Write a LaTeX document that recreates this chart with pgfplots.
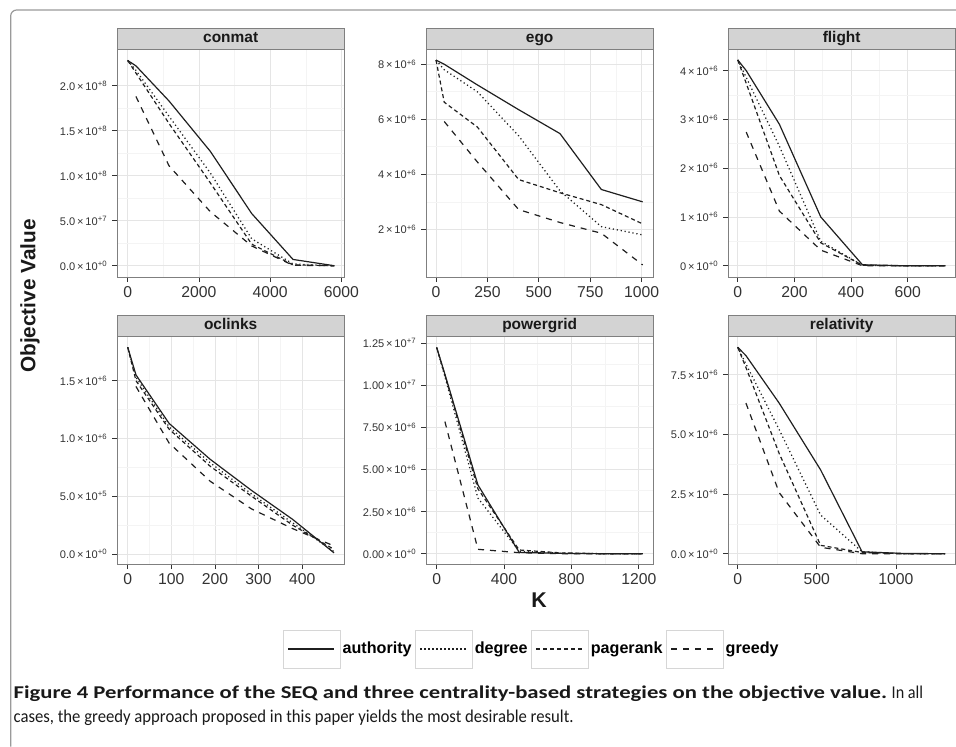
\documentclass[border=0pt]{standalone}
\usepackage{pgfplots}
\pgfplotsset{compat=1.18}
\usepackage{graphicx}
\usepackage{fontspec}
\setmainfont{Liberation Sans}
\newfontfamily\capfont{Carlito}

\definecolor{panelborder}{HTML}{7F7F7F}
\definecolor{stripfill}{HTML}{D3D3D3}
\definecolor{gridmajor}{HTML}{E5E5E5}
\definecolor{gridminor}{HTML}{F4F4F4}
\definecolor{tickcol}{HTML}{333333}
\definecolor{linecol}{HTML}{1F1F1F}
\definecolor{framecol}{HTML}{9A9A9A}
\definecolor{keybox}{HTML}{D6D6D6}

% tick label like 2.0 x 10^+8
\newcommand{\sci}[2]{#1\,×\,10\textsuperscript{#2}}

\pgfplotsset{
  facet/.style={
    scale only axis, width=170.5pt, height=170.5pt, anchor=south west,
    axis line style={draw=panelborder, line width=0.6pt},
    tick pos=left, tick align=outside,
    major tick length=3.75pt, minor tick length=0pt,
    tick style={draw=tickcol, line width=0.6pt},
    minor x tick num=1, minor y tick num=1,
    grid=both,
    major grid style={draw=gridmajor, line width=0.6pt},
    minor grid style={draw=gridminor, line width=0.5pt},
    scaled ticks=false,
    xticklabel style={font=\fontsize{11.8}{12}\selectfont, text=tickcol},
    yticklabel style={font=\fontsize{8.3}{9}\selectfont, text=tickcol},
    every axis title shift=0pt,
    title style={at={(0.5,1)}, anchor=south, yshift=0pt, fill=stripfill, draw=panelborder,
      line width=0.6pt, minimum width=170.5pt, minimum height=16pt, inner sep=0pt,
      text height=8.6pt, text depth=2.6pt,
      font=\bfseries\fontsize{11.6}{12}\selectfont, text=black!90},
  },
  authority/.style={linecol, line width=0.9pt, solid},
  degree/.style={linecol, line width=0.95pt, dash pattern=on 0.9pt off 2.1pt},
  pagerank/.style={linecol, line width=0.9pt, dash pattern=on 3pt off 2.2pt},
  greedy/.style={linecol, line width=0.9pt, dash pattern=on 4.5pt off 4.5pt},
}

\begin{document}
\begin{tikzpicture}
\useasboundingbox (0pt,0pt) rectangle (717pt,-559.5pt);

% conmat
\begin{axis}[facet, at={(87.75pt,-207.75pt)}, title={conmat},
  xmin=-300, xmax=6080, ymin=-0.125e8, ymax=2.40e8,
  xtick={0,2000,4000,6000}, xticklabels={0,2000,4000,6000},
  ytick={0,0.5e8,1e8,1.5e8,2e8},
  yticklabels={\sci{0.0}{+0},\sci{5.0}{+7},\sci{1.0}{+8},\sci{1.5}{+8},\sci{2.0}{+8}}]
\addplot[authority] coordinates {(0,2.28e8) (232,2.22e8) (1160,1.83e8) (2320,1.27e8) (3480,0.58e8) (4640,0.07e8) (5800,0)};
\addplot[degree] coordinates {(0,2.28e8) (232,2.17e8) (1160,1.66e8) (2320,1.03e8) (3480,0.30e8) (4640,0.02e8) (5800,0)};
\addplot[pagerank] coordinates {(0,2.28e8) (232,2.14e8) (1160,1.58e8) (2320,0.92e8) (3480,0.24e8) (4640,0.01e8) (5800,0)};
\addplot[greedy] coordinates {(232,1.88e8) (1160,1.11e8) (2320,0.60e8) (3480,0.22e8) (4640,0.005e8) (5800,0)};
\end{axis}

% ego
\begin{axis}[facet, at={(319.5pt,-207.75pt)}, title={ego},
  xmin=-48.7, xmax=1057, ymin=0.27e6, ymax=8.53e6,
  xtick={0,250,500,750,1000}, xticklabels={0,250,500,750,1000},
  ytick={2e6,4e6,6e6,8e6},
  yticklabels={\sci{2}{+6},\sci{4}{+6},\sci{6}{+6},\sci{8}{+6}}]
\addplot[authority] coordinates {(0,8.15e6) (40,8.0e6) (201,7.25e6) (402,6.35e6) (603,5.48e6) (804,3.45e6) (1005,3.0e6)};
\addplot[degree] coordinates {(0,8.15e6) (40,7.8e6) (201,7.0e6) (402,5.4e6) (603,3.4e6) (804,2.1e6) (1005,1.8e6)};
\addplot[pagerank] coordinates {(0,8.15e6) (40,6.62e6) (201,5.72e6) (402,3.81e6) (603,3.33e6) (804,2.9e6) (1005,2.2e6)};
\addplot[greedy] coordinates {(40,5.92e6) (201,4.45e6) (402,2.72e6) (603,2.25e6) (804,1.86e6) (1005,0.71e6)};
\end{axis}

% flight
\begin{axis}[facet, at={(546pt,-207.75pt)}, title={flight},
  xmin=-34.3, xmax=767.8, ymin=-0.231e6, ymax=4.43e6,
  xtick={0,200,400,600}, xticklabels={0,200,400,600},
  ytick={0,1e6,2e6,3e6,4e6},
  yticklabels={\sci{0}{+0},\sci{1}{+6},\sci{2}{+6},\sci{3}{+6},\sci{4}{+6}}]
\addplot[authority] coordinates {(0,4.22e6) (30,4.0e6) (147,2.9e6) (293,1.0e6) (440,0.02e6) (586,0) (733,0)};
\addplot[degree] coordinates {(0,4.22e6) (30,3.86e6) (147,2.45e6) (293,0.5e6) (440,0.01e6) (586,0) (733,0)};
\addplot[pagerank] coordinates {(0,4.22e6) (30,3.74e6) (147,1.85e6) (293,0.47e6) (440,0.01e6) (586,0) (733,0)};
\addplot[greedy] coordinates {(30,2.74e6) (147,1.12e6) (293,0.32e6) (440,0) (586,0) (733,0)};
\end{axis}

% oclinks
\begin{axis}[facet, at={(87.75pt,-423pt)}, title={oclinks},
  xmin=-24.5, xmax=496.7, ymin=-0.0867e6, ymax=1.881e6,
  xtick={0,100,200,300,400}, xticklabels={0,100,200,300,400},
  ytick={0,0.5e6,1e6,1.5e6},
  yticklabels={\sci{0.0}{+0},\sci{5.0}{+5},\sci{1.0}{+6},\sci{1.5}{+6}}]
\addplot[authority] coordinates {(0,1.79e6) (19,1.55e6) (95,1.13e6) (189,0.82e6) (284,0.55e6) (378,0.30e6) (473,0.01e6)};
\addplot[degree] coordinates {(0,1.79e6) (19,1.53e6) (95,1.10e6) (189,0.79e6) (284,0.52e6) (378,0.27e6) (473,0.02e6)};
\addplot[pagerank] coordinates {(0,1.79e6) (19,1.50e6) (95,1.08e6) (189,0.76e6) (284,0.50e6) (378,0.25e6) (473,0.04e6)};
\addplot[greedy] coordinates {(19,1.45e6) (95,0.96e6) (189,0.63e6) (284,0.39e6) (378,0.22e6) (473,0.07e6)};
\end{axis}

% powergrid
\begin{axis}[facet, at={(319.5pt,-423pt)}, title={powergrid},
  xmin=-63.3, xmax=1286.4, ymin=-0.612e6, ymax=12.88e6,
  xtick={0,400,800,1200}, xticklabels={0,400,800,1200},
  ytick={0,2.5e6,5e6,7.5e6,10e6,12.5e6},
  yticklabels={\sci{0.00}{+0},\sci{2.50}{+6},\sci{5.00}{+6},\sci{7.50}{+6},\sci{1.00}{+7},\sci{1.25}{+7}},
  legend style={at={(0.465,-0.374)}, anchor=center, draw=none, fill=none,
    legend columns=4, font=\bfseries\fontsize{12.1}{13}\selectfont,
    nodes={inner xsep=1.5pt, inner ysep=1pt},
    /tikz/every even column/.append style={column sep=1pt}},
  legend cell align=left,
  legend image code/.code={
    \draw[keybox, solid, line width=0.6pt] (0pt,-14.25pt) rectangle (42.75pt,14.25pt);
    \draw[#1] (3.75pt,0pt) -- (38.25pt,0pt);}]
\addplot[authority] coordinates {(0,12.24e6) (49,10.65e6) (245,4.08e6) (490,0.08e6) (735,0.02e6) (980,0) (1225,0)};
\addplot[degree] coordinates {(0,12.24e6) (49,10.5e6) (245,3.3e6) (490,0.15e6) (735,0.03e6) (980,0) (1225,0)};
\addplot[pagerank] coordinates {(0,12.24e6) (49,10.6e6) (245,3.85e6) (490,0.22e6) (735,0.05e6) (980,0) (1225,0)};
\addplot[greedy] coordinates {(49,7.84e6) (245,0.26e6) (490,0.06e6) (735,0) (980,0) (1225,0)};
\legend{authority,degree,pagerank,greedy}
\end{axis}

% relativity
\begin{axis}[facet, at={(546pt,-423pt)}, title={relativity},
  xmin=-61.4, xmax=1375.3, ymin=-0.432e6, ymax=9.094e6,
  xtick={0,500,1000}, xticklabels={0,500,1000},
  ytick={0,2.5e6,5e6,7.5e6},
  yticklabels={\sci{0.0}{+0},\sci{2.5}{+6},\sci{5.0}{+6},\sci{7.5}{+6}}]
\addplot[authority] coordinates {(0,8.65e6) (52,8.3e6) (262,6.31e6) (524,3.51e6) (786,0.08e6) (1048,0.01e6) (1310,0)};
\addplot[degree] coordinates {(0,8.65e6) (52,7.95e6) (262,5.2e6) (524,1.62e6) (786,0.08e6) (1048,0) (1310,0)};
\addplot[pagerank] coordinates {(0,8.65e6) (52,7.8e6) (262,4.2e6) (524,0.35e6) (786,0.05e6) (1048,0) (1310,0)};
\addplot[greedy] coordinates {(52,6.31e6) (262,2.56e6) (524,0.27e6) (786,0) (1048,0) (1310,0)};
\end{axis}

% shared axis titles
\node[rotate=90, font=\bfseries\fontsize{15.6}{16}\selectfont, text=black!90] at (22.5pt,-222pt) {Objective Value};
\node[font=\bfseries\fontsize{16}{16}\selectfont, text=black!90] at (404.25pt,-450pt) {K};

% figure frame and caption
\draw[framecol, line width=0.9pt, rounded corners=4.5pt] (8pt,-560pt) -- (8pt,-7.5pt) -- (718pt,-7.5pt);
\node[anchor=base west, inner sep=0pt, font=\capfont\fontsize{13.5}{15}\selectfont, text=black!90] at (10pt,-523.5pt)
  {\resizebox{655pt}{\height}{\bfseries Figure 4 Performance of the SEQ and three centrality-based strategies on the objective value.}\hspace{3.5pt}\scalebox{0.9}[1]{In all}};
\node[anchor=base west, inner sep=0pt, font=\capfont\fontsize{13.5}{15}\selectfont, text=black!90] at (10pt,-542pt)
  {\resizebox{420pt}{\height}{cases, the greedy approach proposed in this paper yields the most desirable result.}};
\end{tikzpicture}
\end{document}
